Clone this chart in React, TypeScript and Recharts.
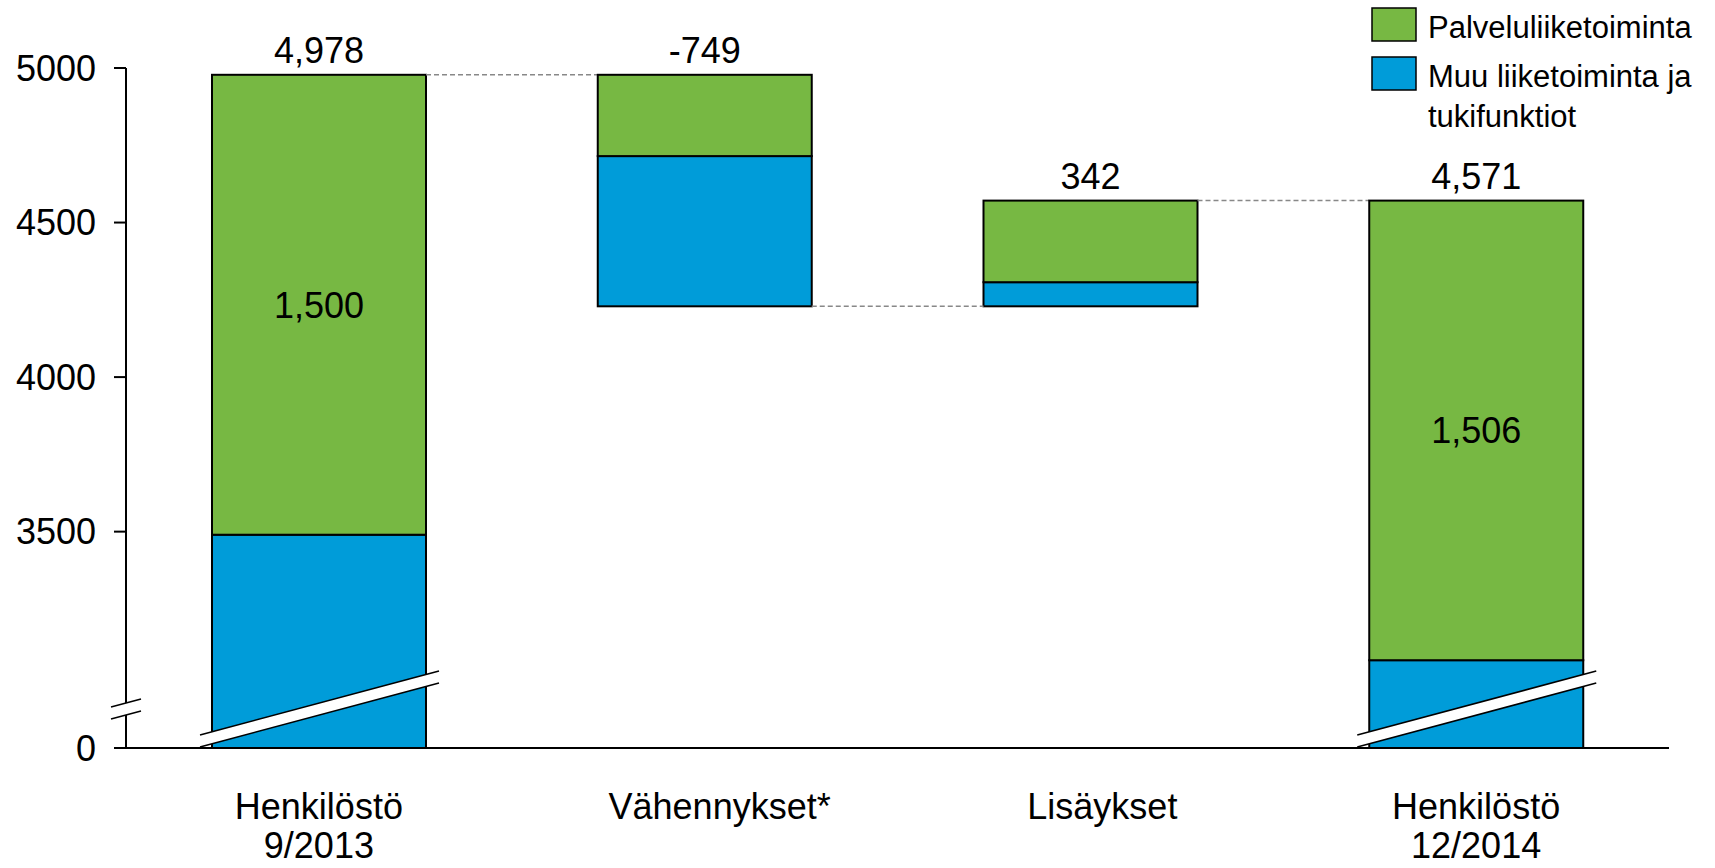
import { BarChart, Bar, XAxis, YAxis, LabelList, Legend, ReferenceLine } from 'recharts'

const FONT = '"Liberation Sans", Arial, Helvetica, sans-serif'
const GREEN = '#77B843'
const BLUE = '#009CD9'
const INK = '#000000'

// categories (line break marks a second label row)
const categories = ['Henkilöstö\n9/2013', 'Vähennykset*', 'Lisäykset', 'Henkilöstö\n12/2014']
// the two middle labels sit a little right of their bars in the original
const categoryLabelShift = [0, 15, 12, 0]
// invisible base of the floating bars
const baseValues = [0, 4229, 4229, 0]
// Muu liiketoiminta ja tukifunktiot
const muuValues = [3490, 486, 78, 3084]
// Palveluliiketoiminta
const palveluValues = [1488, 263, 264, 1487]
// labels above each bar
const changeValues = [4978, -749, 342, 4571]
// labels inside the green part
const innerValues = [1500, null, null, 1506]
// level where the dashed connector leaves each bar
const connectorLevels = [4978, 4229, 4571, null]

const legendNames = ['Palveluliiketoiminta', 'Muu liiketoiminta ja\ntukifunktiot']

const yTicks = [2800, 3500, 4000, 4500, 5000]
const yTickLabels = ['0', '3500', '4000', '4500', '5000']
const Y_MIN = 2800
const Y_MAX = 5000
const AXIS_BREAK = 2926

const W = 1715
const H = 868
const MARGIN = { top: 68, right: 46, bottom: 0, left: 0 }
const Y_AXIS_W = 126
const X_AXIS_H = 120
const PLOT_W = W - MARGIN.left - MARGIN.right - Y_AXIS_W
const PLOT_H = H - MARGIN.top - MARGIN.bottom - X_AXIS_H
const BAND = PLOT_W / categories.length
const BREAK_PX = ((Y_MAX - AXIS_BREAK) / (Y_MAX - Y_MIN)) * PLOT_H

const rows = categories.map((category, i) => ({
  category,
  base: baseValues[i],
  muu: muuValues[i],
  palvelu: palveluValues[i],
  change: changeValues[i].toLocaleString('en-US'),
  inner: innerValues[i] == null ? null : (innerValues[i] as number).toLocaleString('en-US'),
  connector: connectorLevels[i],
}))

const BlueShape = (props: any) => {
  const { x, y, width, height, payload, background } = props
  const plotBottom = background ? background.y + background.height : y + height
  const bottom = Math.min(y + height, plotBottom)
  const broken = payload.base === 0
  const x0 = x - 12
  const x1 = x + width + 13
  return (
    <g>
      <rect x={x} y={y} width={width} height={bottom - y} fill={BLUE} stroke={INK} strokeWidth={2} />
      {broken && (
        <g>
          <polygon
            points={`${x0},${bottom - 1} ${x1},${bottom - 65} ${x1},${bottom - 77} ${x0},${bottom - 13}`}
            fill="#fff"
          />
          <line x1={x0} y1={bottom - 1} x2={x1} y2={bottom - 65} stroke={INK} strokeWidth={1.6} />
          <line x1={x0} y1={bottom - 13} x2={x1} y2={bottom - 77} stroke={INK} strokeWidth={1.6} />
        </g>
      )}
    </g>
  )
}

const GreenShape = (props: any) => {
  const { x, y, width, height, payload } = props
  const level = payload.connector
  let connector = null
  if (level != null && payload.palvelu > 0) {
    const ppu = height / payload.palvelu
    const top = payload.base + payload.muu + payload.palvelu
    const ly = y + (top - level) * ppu
    connector = (
      <line
        x1={x + width}
        y1={ly}
        x2={x + BAND}
        y2={ly}
        stroke="#888888"
        strokeWidth={1.5}
        strokeDasharray="5 3"
      />
    )
  }
  return (
    <g>
      <rect x={x} y={y} width={width} height={height} fill={GREEN} stroke={INK} strokeWidth={2} />
      {connector}
    </g>
  )
}

const AxisBreak = (props: any) => {
  const x = Math.min(props.x1, props.x2)
  const y = props.y1
  return (
    <g>
      <line x1={x - 15} y1={y - 2} x2={x + 15} y2={y - 10} stroke={INK} strokeWidth={1.6} />
      <line x1={x - 15} y1={y + 10} x2={x + 15} y2={y + 2} stroke={INK} strokeWidth={1.6} />
    </g>
  )
}

const CategoryTick = ({ x, y, payload }: any) => {
  const idx = categories.indexOf(payload.value)
  const cx = x + (categoryLabelShift[idx] ?? 0)
  const lines = String(payload.value).split('\n')
  return (
    <text x={cx} y={y} textAnchor="middle" fontSize={36} fontFamily={FONT} fill={INK}>
      {lines.map((line, i) => (
        <tspan key={i} x={cx} dy={i === 0 ? 71 : 39}>
          {line}
        </tspan>
      ))}
    </text>
  )
}

const renderLegend = () => {
  const colors = [GREEN, BLUE]
  const tops = [8, 57]
  return (
    <svg width={343} height={140} style={{ display: 'block' }}>
      {legendNames.map((name, i) => (
        <g key={name}>
          <rect x={1} y={tops[i]} width={44} height={33} fill={colors[i]} stroke={INK} strokeWidth={1.5} />
          <text x={57} y={tops[i] + 30} fontSize={31} fontFamily={FONT} fill={INK}>
            {name.split('\n').map((line, j) => (
              <tspan key={j} x={57} dy={j === 0 ? 0 : 40}>
                {line}
              </tspan>
            ))}
          </text>
        </g>
      ))}
    </svg>
  )
}

export default function App() {
  return (
    <div style={{ position: 'absolute', left: 0, top: 0, width: W, height: H, background: '#fff' }}>
      <BarChart width={W} height={H} data={rows} margin={MARGIN}>
        <XAxis
          dataKey="category"
          height={X_AXIS_H}
          axisLine={{ stroke: INK, strokeWidth: 2 }}
          tickLine={false}
          tickSize={0}
          tickMargin={0}
          interval={0}
          tick={<CategoryTick />}
        />
        <YAxis
          width={Y_AXIS_W}
          domain={[Y_MIN, Y_MAX]}
          ticks={yTicks}
          interval={0}
          allowDataOverflow
          tickFormatter={(v: number) => yTickLabels[yTicks.indexOf(v)] ?? String(v)}
          axisLine={{ stroke: INK, strokeWidth: 2, strokeDasharray: `${BREAK_PX - 6} 12 ${PLOT_H}` }}
          tickLine={{ stroke: INK, strokeWidth: 2 }}
          tickSize={12}
          tickMargin={18}
          tick={{ fill: INK, fontSize: 36, fontFamily: FONT }}
        />
        <Legend
          content={renderLegend}
          layout="horizontal"
          verticalAlign="middle"
          align="center"
          wrapperStyle={{ left: 1371, top: 0, width: 343, height: 140 }}
        />
        <Bar dataKey="base" stackId="w" fill="none" barSize={214} isAnimationActive={false} legendType="none" />
        <Bar dataKey="muu" stackId="w" barSize={214} shape={BlueShape} isAnimationActive={false} />
        <Bar dataKey="palvelu" stackId="w" barSize={214} shape={GreenShape} isAnimationActive={false}>
          <LabelList dataKey="change" position="top" offset={12} fill={INK} fontSize={36} fontFamily={FONT} />
          <LabelList dataKey="inner" position="center" fill={INK} fontSize={36} fontFamily={FONT} />
        </Bar>
        <ReferenceLine y={AXIS_BREAK} stroke="none" shape={AxisBreak} />
      </BarChart>
    </div>
  )
}
